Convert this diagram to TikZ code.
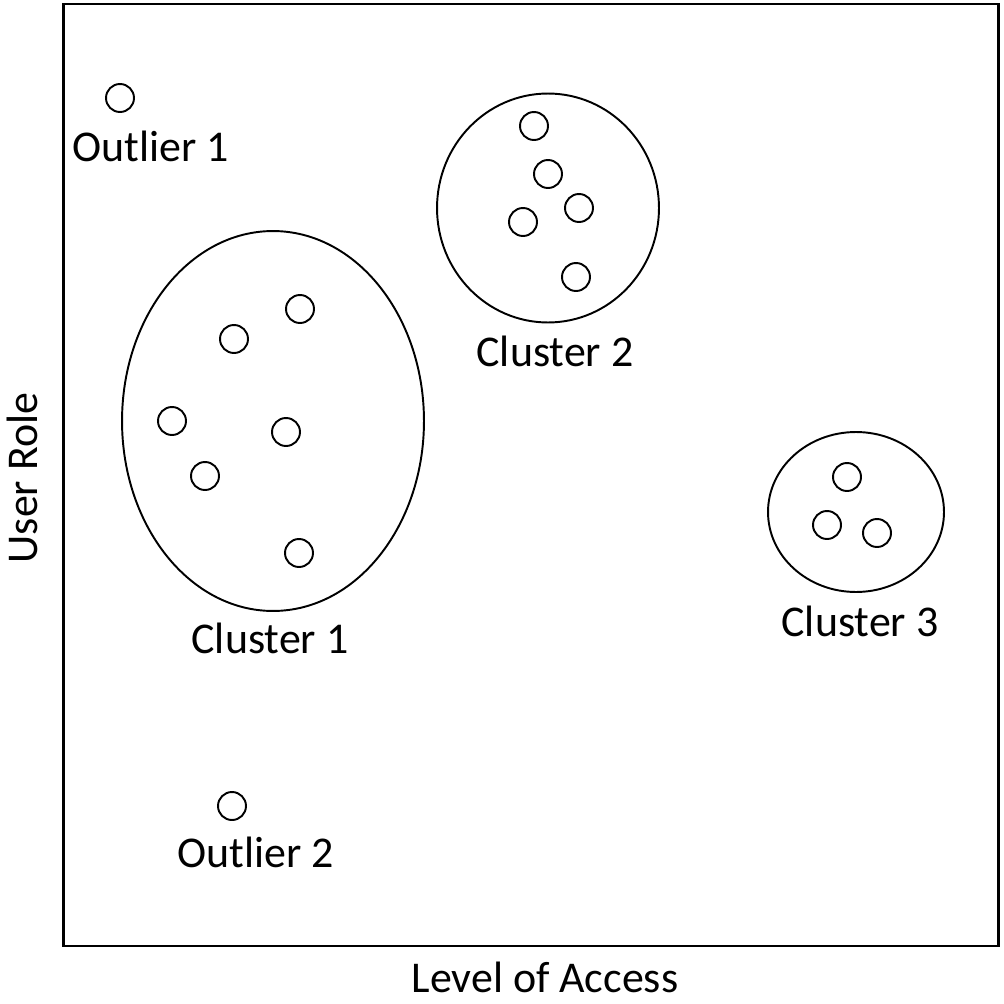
\documentclass[tikz,border=0pt]{standalone}
\usepackage{fontspec}
\setmainfont{Carlito}
\usetikzlibrary{shapes.geometric}

\begin{document}
\begin{tikzpicture}[x=0.02cm, y=-0.02cm,
        point/.style={circle, draw, line width=1.1pt, minimum size=0.56cm, inner sep=0pt},
        group/.style={ellipse, draw, line width=1.1pt, inner sep=0pt},
        label/.style={font=\fontsize{25}{30}\selectfont, inner sep=0pt}
    ]
        \useasboundingbox (0,0) rectangle (1004,1004);
        \node[draw, line width=1.5pt, minimum width=18.7cm, minimum height=18.84cm, inner sep=0pt] (frame) at (531,475) {};

        % clusters
        \node[group, minimum width=6.04cm, minimum height=7.6cm] (cluster1) at (273,421) {};
        \node[group, minimum width=4.44cm, minimum height=4.58cm] (cluster2) at (548,208) {};
        \node[group, minimum width=3.52cm, minimum height=3.2cm] (cluster3) at (856,512) {};

        % points
        \node[point] (o1) at (120,98) {};
        \node[point] (o2) at (232,806) {};
        \node[point] (a1) at (300,309) {};
        \node[point] (a2) at (234,339) {};
        \node[point] (a3) at (172,421) {};
        \node[point] (a4) at (286,432) {};
        \node[point] (a5) at (205,476) {};
        \node[point] (a6) at (299,553) {};
        \node[point] (b1) at (534,126) {};
        \node[point] (b2) at (548,174) {};
        \node[point] (b3) at (579,208) {};
        \node[point] (b4) at (523,222) {};
        \node[point] (b5) at (576,277) {};
        \node[point] (c1) at (847,477) {};
        \node[point] (c2) at (827,525) {};
        \node[point] (c3) at (877,533) {};

        % labels
        \node[label] (lo1) at (151,146) {Outlier 1};
        \node[label] (lo2) at (256,852) {Outlier 2};
        \node[label] (lc1) at (270,638) {Cluster 1};
        \node[label] (lc2) at (555,351) {Cluster 2};
        \node[label] (lc3) at (860,621) {Cluster 3};
        \node[label] (xlabel) at (545,977) {Level of Access};
        \node[label, rotate=90] (ylabel) at (22,478) {User Role};
    \end{tikzpicture}
\end{document}
